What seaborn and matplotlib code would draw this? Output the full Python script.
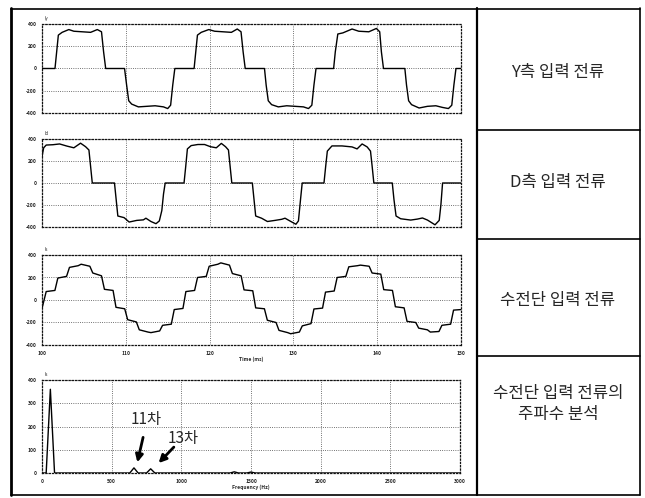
import numpy as np
import pandas as pd
import matplotlib
matplotlib.use("Agg")
import matplotlib.pyplot as plt
from matplotlib.lines import Line2D
import seaborn as sns

# ---- data (time in ms, current in A) ----
t_y = [100.0, 101.55, 101.75, 101.95, 102.4, 103.2, 103.8, 104.8, 105.8, 106.6, 107.1, 107.35, 107.6,
       109.85, 110.1, 110.35, 110.7, 111.5, 112.5, 113.5, 114.5, 115.0, 115.35, 115.6, 115.85,
       118.15, 118.35, 118.55, 119.0, 119.9, 120.6, 121.6, 122.6, 123.3, 123.75, 124.0, 124.25,
       126.55, 126.75, 127.0, 127.4, 128.2, 129.2, 130.2, 131.2, 131.8, 132.2, 132.45, 132.7,
       134.8, 135.0, 135.3, 135.9, 137.0, 137.8, 139.0, 139.9, 140.3, 140.5, 140.75,
       143.3, 143.5, 143.75, 144.1, 145.0, 146.0, 147.0, 147.8, 148.5, 148.9, 149.15, 149.4, 150.0]
i_y = [0, 0, 150, 300, 325, 350, 335, 330, 325, 350, 330, 150, 0,
       0, -150, -290, -320, -345, -340, -335, -345, -360, -330, -150, 0,
       0, 150, 300, 325, 350, 335, 330, 325, 355, 330, 150, 0,
       0, -150, -290, -325, -345, -335, -340, -345, -360, -330, -150, 0,
       0, 150, 310, 320, 355, 335, 330, 360, 330, 150, 0,
       0, -150, -290, -325, -355, -340, -335, -350, -360, -330, -150, 0, 0]

t_d = [100.0, 100.2, 100.5, 101.3, 102.1, 103.0, 103.8, 104.6, 105.2, 105.6, 105.8, 106.0,
       108.65, 108.85, 109.05, 109.8, 110.4, 111.3, 112.1, 112.4, 113.0, 113.6, 114.0, 114.3, 114.5, 114.7,
       116.95, 117.15, 117.35, 117.8, 118.6, 119.4, 120.1, 120.8, 121.4, 121.9, 122.25, 122.45, 122.65,
       125.1, 125.3, 125.5, 126.2, 126.9, 127.8, 128.6, 129.0, 129.7, 130.3, 130.6, 130.85, 131.05,
       133.65, 133.85, 134.05, 134.6, 135.8, 137.0, 137.6, 138.2, 138.8, 139.2, 139.4, 139.6,
       141.8, 142.0, 142.25, 142.8, 144.0, 144.8, 145.4, 146.0, 146.9, 147.4, 147.6, 147.8, 150.0]
i_d = [240, 320, 345, 348, 355, 335, 320, 362, 330, 300, 150, 0,
       0, -150, -300, -315, -355, -340, -335, -320, -350, -370, -345, -250, -100, 0,
       0, 150, 310, 340, 350, 350, 330, 320, 360, 330, 300, 150, 0,
       0, -150, -300, -320, -350, -340, -330, -320, -350, -375, -345, -150, 0,
       0, 150, 290, 337, 337, 328, 310, 355, 328, 290, 150, 0,
       0, -150, -300, -325, -337, -328, -318, -337, -380, -340, -200, 0, 0]

t_s = [100.0,
       100.50, 101.54, 101.89, 102.93, 103.28, 104.32, 104.67, 105.71, 106.06, 107.10, 107.45, 108.48,
       108.83, 109.87, 110.22, 111.26, 111.61, 112.65, 113.00, 114.04, 114.39, 115.43, 115.78, 116.82,
       117.17, 118.21, 118.56, 119.60, 119.95, 120.99, 121.34, 122.37, 122.72, 123.76, 124.11, 125.15,
       125.50, 126.54, 126.89, 127.93, 128.28, 129.32, 129.67, 130.71, 131.06, 132.10, 132.45, 133.48,
       133.83, 134.87, 135.22, 136.26, 136.61, 137.65, 138.00, 139.04, 139.39, 140.43, 140.78, 141.82,
       142.17, 143.21, 143.56, 144.60, 144.95, 145.99, 146.34, 147.37, 147.72, 148.76, 149.11, 150.0]
i_s = [-75,
       75, 85, 195, 210, 290, 305, 318, 300, 240, 215, 95, 85,
       -65, -78, -175, -195, -265, -285, -290, -275, -225, -215, -85, -75,
       75, 85, 200, 210, 300, 318, 330, 310, 235, 215, 90, 82,
       -70, -78, -180, -200, -270, -290, -300, -285, -230, -210, -80, -72,
       70, 80, 200, 210, 295, 305, 310, 300, 240, 230, 92, 85,
       -60, -70, -190, -200, -250, -265, -285, -280, -225, -215, -90, -85]

freq = [0, 30, 60, 90, 120, 600, 630, 660, 690, 720, 750, 780, 810, 840,
        1350, 1380, 1410, 1470, 1500, 1530, 3000]
mag = [0, 0, 360, 0, 0, 0, 0, 22, 0, 0, 0, 18, 0, 0,
       0, 5, 0, 0, 4, 0, 0]

row_labels = ["Y측 입력 전류", "D측 입력 전류", "수전단 입력 전류", "수전단 입력 전류의\n주파수 분석"]
trace_tags = ["Iy", "Id", "Is", "Is"]
time_ticks = [100, 110, 120, 130, 140, 150]
cur_ticks = [-400, -200, 0, 200, 400]
freq_ticks = [0, 500, 1000, 1500, 2000, 2500, 3000]
mag_ticks = [0, 100, 200, 300, 400]

# ---- styling ----
sns.set_theme(style="white")
plt.rcParams['font.family'] = ['Noto Sans CJK KR', 'DejaVu Sans']
plt.rcParams['axes.unicode_minus'] = False

W, H = 645, 498
fig = plt.figure(figsize=(W / 100, H / 100), dpi=100)
fig.patch.set_facecolor('white')


def px_axes(x0, y0, x1, y1):
    return fig.add_axes([x0 / W, 1 - y1 / H, (x1 - x0) / W, (y1 - y0) / H])


def style(ax, xt, yt, show_x):
    ax.set_xticks(xt)
    ax.set_yticks(yt)
    ax.tick_params(length=0, labelsize=3.6, pad=4)
    for lab in ax.get_xticklabels() + ax.get_yticklabels():
        lab.set_fontweight('bold')
    if not show_x:
        ax.set_xticklabels([])
    ax.grid(True, linestyle=':', color='#444444', linewidth=0.6)
    for s in ax.spines.values():
        s.set_linestyle(':')
        s.set_color('#111111')
        s.set_linewidth(0.9)
    ax.set_xlabel('')
    ax.set_ylabel('')


boxes = [(42, 24, 461, 113), (42, 139, 461, 227), (42, 255, 461, 345), (42, 380, 460, 473)]
axes = [px_axes(*b) for b in boxes]

series = [(t_y, i_y), (t_d, i_d), (t_s, i_s)]
for k, (tt, ii) in enumerate(series):
    ax = axes[k]
    df = pd.DataFrame({'t': tt, 'i': ii})
    sns.lineplot(data=df, x='t', y='i', ax=ax, color='black', linewidth=1.0,
                 estimator=None, sort=False)
    ax.set_xlim(100, 150)
    ax.set_ylim(-400, 400)
    style(ax, time_ticks, cur_ticks, show_x=(k == 2))

axes[2].set_xlabel('Time (ms)', fontsize=3.6, fontweight='bold', labelpad=1)

ax4 = axes[3]
sp = pd.DataFrame({'f': freq, 'm': mag})
sns.lineplot(data=sp, x='f', y='m', ax=ax4, color='black', linewidth=1.0,
             estimator=None, sort=False)
ax4.set_xlim(0, 3000)
ax4.set_ylim(0, 400)
style(ax4, freq_ticks, mag_ticks, show_x=True)
ax4.set_xlabel('Frequency (Hz)', fontsize=3.6, fontweight='bold', labelpad=1)

for ax, tag in zip(axes, trace_tags):
    ax.text(0.005, 1.03, tag, transform=ax.transAxes, fontsize=3.2, ha='left', va='bottom')

# harmonic callouts
ax4.text(745, 232, '11차', fontsize=11, ha='center', va='center')
ax4.text(1010, 150, '13차', fontsize=11, ha='center', va='center')
arrow = dict(arrowstyle='-|>', color='black', lw=2.0, mutation_scale=11)
ax4.annotate('', xy=(680, 34), xytext=(730, 165), arrowprops=arrow)
ax4.annotate('', xy=(823, 34), xytext=(960, 120), arrowprops=arrow)

# ---- table frame ----
def hline(y, x0, x1, lw):
    fig.add_artist(Line2D([x0 / W, x1 / W], [1 - y / H, 1 - y / H], color='black', lw=lw))


def vline(x, y0, y1, lw):
    fig.add_artist(Line2D([x / W, x / W], [1 - y0 / H, 1 - y1 / H], color='black', lw=lw))


vline(11, 8, 495, 2.0)
vline(477, 8, 495, 1.6)
vline(640, 8, 495, 1.2)
hline(9, 11, 640, 1.2)
hline(495, 11, 640, 1.2)
for yy in [130, 239, 356]:
    hline(yy, 477, 640, 1.2)

label_y = [72, 182, 300, 404]
for lab, yy in zip(row_labels, label_y):
    fig.text(558 / W, 1 - yy / H, lab, fontsize=12, ha='center', va='center',
             linespacing=1.3)

fig.savefig('out.png', dpi=100)
